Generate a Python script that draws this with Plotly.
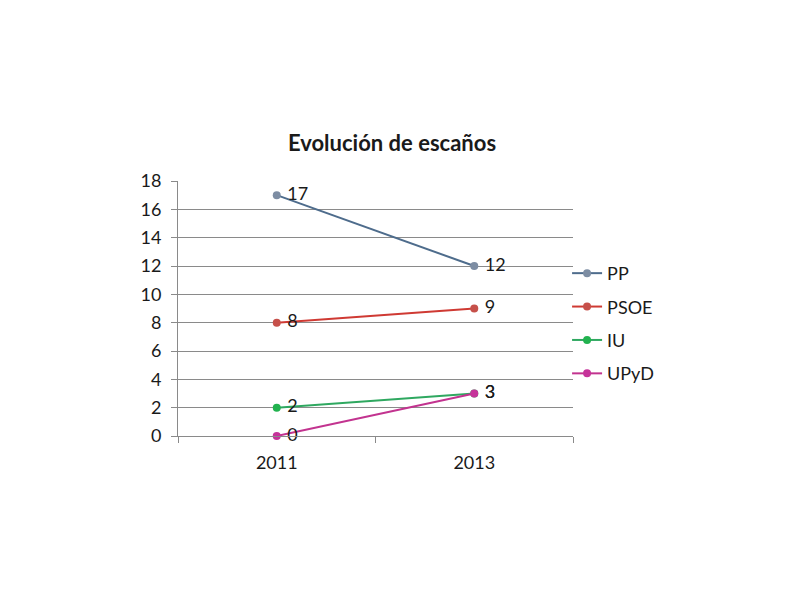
import plotly.graph_objects as go

years = ["2011", "2013"]
series_names = ["PP", "PSOE", "IU", "UPyD"]
pp = [17, 12]
psoe = [8, 9]
iu = [2, 3]
upyd = [0, 3]
values = [pp, psoe, iu, upyd]
line_colors = ["#4E6C8C", "#CF3A33", "#2FA860", "#C2338F"]
marker_colors = ["#7D8DA3", "#C6504A", "#22B24F", "#C6339A"]

font_family = "Lato, 'Open Sans', sans-serif"

fig = go.Figure()
for name, vals, lc, mc in zip(series_names, values, line_colors, marker_colors):
    fig.add_trace(go.Scatter(
        x=years, y=vals, name=name, mode="lines+markers+text",
        text=["\u00a0" + str(v) for v in vals], textposition="middle right",
        textfont=dict(size=18, color="#1a1a1a", family=font_family),
        line=dict(color=lc, width=2),
        marker=dict(color=mc, size=8),
        legendgroup=name,
        cliponaxis=False,
    ))

fig.update_layout(
    width=800, height=602,
    paper_bgcolor="white", plot_bgcolor="white",
    margin=dict(l=170, r=235, t=173, b=174),
    title=dict(text="<b>Evolución de escaños</b>", x=384 / 800, xanchor="center",
               y=1 - 135 / 602, yanchor="middle",
               font=dict(size=22, color="#1a1a1a", family=font_family)),
    font=dict(family=font_family, size=18, color="#1a1a1a"),
    showlegend=True,
    legend=dict(x=0.985, xanchor="left", y=0.71, yanchor="top",
                font=dict(size=18, color="#1a1a1a"),
                tracegroupgap=7, itemwidth=30,
                bgcolor="rgba(0,0,0,0)"),
)
fig.update_xaxes(
    type="category", range=[-0.5, 1.5], tickson="boundaries",
    ticks="outside", ticklen=6, tickcolor="#8a8a8a",
    showline=True, linecolor="#8a8a8a", linewidth=1,
    showgrid=False, tickfont=dict(size=18), ticklabelstandoff=10,
)
fig.update_yaxes(
    range=[0, 18], dtick=2, tickmode="linear", tick0=0,
    showgrid=True, gridcolor="#8a8a8a", gridwidth=1,
    ticks="outside", ticklen=6, tickcolor="#8a8a8a",
    showline=True, linecolor="#8a8a8a", linewidth=1,
    zeroline=False, tickfont=dict(size=18), ticklabelstandoff=6,
)

fig.write_html("out.html")
